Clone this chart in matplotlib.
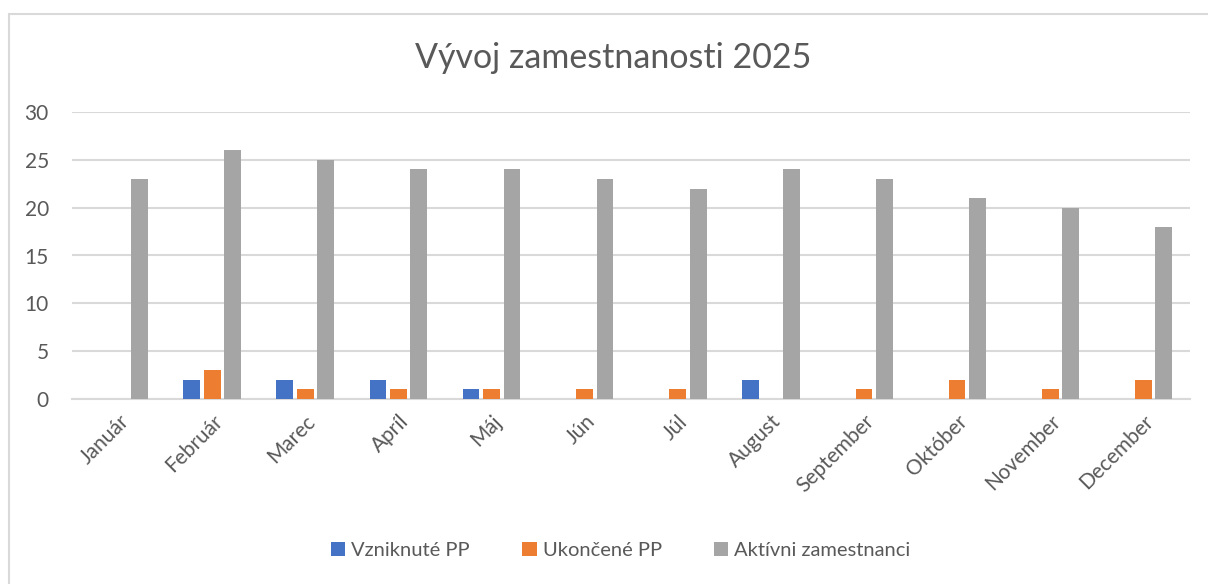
import numpy as np
import matplotlib.pyplot as plt
from matplotlib.patches import Rectangle

months = ["Január", "Február", "Marec", "Apríl", "Máj", "Jún", "Júl",
          "August", "September", "Október", "November", "December"]
vzniknute = [0, 2, 2, 2, 1, 0, 0, 2, 0, 0, 0, 0]
ukoncene = [0, 3, 1, 1, 1, 1, 1, 0, 1, 2, 1, 2]
aktivni = [23, 26, 25, 24, 24, 23, 22, 24, 23, 21, 20, 18]

series = [("Vzniknuté PP", vzniknute, "#4472c4"),
          ("Ukončené PP", ukoncene, "#ed7d31"),
          ("Aktívni zamestnanci", aktivni, "#a5a5a5")]

plt.rcParams['font.family'] = ['Lato', 'DejaVu Sans']
txt = "#595959"

fig = plt.figure(figsize=(12.08, 5.84), dpi=100)
ax = fig.add_axes([0.060, 0.317, 0.925, 0.491])

x = np.arange(len(months))
w = 0.18
step = 0.22
for i, (name, vals, col) in enumerate(series):
    ax.bar(x + (i - 1) * step, vals, w, color=col, label=name, zorder=3)

ax.set_xlim(-0.5, len(months) - 0.5)
ax.set_ylim(0, 30)
ax.set_yticks(range(0, 31, 5))
ax.yaxis.grid(True, color="#d9d9d9", linewidth=1.5, zorder=0)
ax.set_axisbelow(True)
for s in ["top", "right", "left"]:
    ax.spines[s].set_visible(False)
ax.spines["bottom"].set_color("#d9d9d9")
ax.spines["bottom"].set_linewidth(1.5)
ax.tick_params(axis="both", length=0, labelsize=15, colors=txt)
ax.tick_params(axis="y", pad=17)
ax.set_xticks(x)
ax.set_xticklabels(months, rotation=45, ha="right", rotation_mode="anchor")
ax.tick_params(axis="x", pad=9)

fig.text(0.508, 0.90, "Vývoj zamestnanosti 2025", ha="center", va="center",
         fontsize=24.5, color=txt)

ax.legend(loc="center", bbox_to_anchor=(0.514, 0.057), bbox_transform=fig.transFigure,
          ncol=3, frameon=False, fontsize=14.5, labelcolor=txt, handlelength=0.7,
          handleheight=0.7, handletextpad=0.3, columnspacing=2.6)

fig.patches.append(Rectangle((0.0075, -0.05), 1.05, 1.026, transform=fig.transFigure,
                             fill=False, edgecolor="#d9d9d9", linewidth=1.5))

fig.savefig("out.png", dpi=100)
